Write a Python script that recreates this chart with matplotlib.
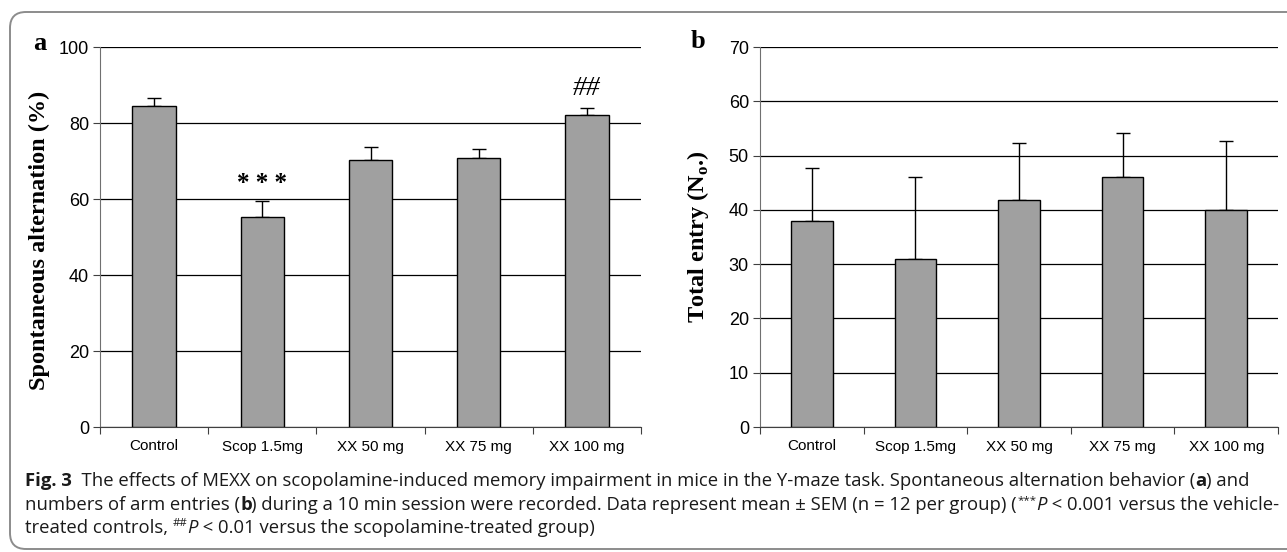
import matplotlib
matplotlib.use("Agg")
import matplotlib.pyplot as plt
from matplotlib.transforms import IdentityTransform
from matplotlib.patches import FancyBboxPatch
import numpy as np

# ---------------- data ----------------
groups = ["Control", "Scop 1.5mg", "XX 50 mg", "XX 75 mg", "XX 100 mg"]
alternation = [84.4, 55.2, 70.2, 70.7, 82.0]
alternation_sem = [2.3, 4.3, 3.4, 2.4, 1.9]
entries = [37.9, 30.9, 41.8, 46.1, 39.9]
entries_sem = [9.9, 15.2, 10.6, 8.0, 12.8]
alt_ticks = [0, 20, 40, 60, 80, 100]
ent_ticks = [0, 10, 20, 30, 40, 50, 60, 70]
sig_marks = {1: "***", 4: "##"}
sig_y = {1: 64.0, 4: 89.0}

W, H = 1287, 552
plt.rcParams['mathtext.fontset'] = 'custom'
plt.rcParams['mathtext.bf'] = 'Liberation Serif:bold'
plt.rcParams['mathtext.rm'] = 'Liberation Serif'

fig = plt.figure(figsize=(W / 100, H / 100), dpi=100)
fig.patch.set_facecolor("white")

# frame
box = FancyBboxPatch((10, H - 12 - 537), 1300, 537, boxstyle="round,pad=0,rounding_size=16",
                     transform=IdentityTransform(), facecolor="none",
                     edgecolor="#8c8c8c", linewidth=1.4, clip_on=False)
fig.patches.append(box)

def px_axes(l, t, r, b):
    return fig.add_axes([l / W, (H - b) / H, (r - l) / W, (b - t) / H])

def style_axes(ax, vals, sems, ticks):
    x = np.arange(len(groups))
    ax.set_axisbelow(True)
    ax.bar(x, vals, width=0.4, color="#a0a0a0", edgecolor="black", linewidth=1.0, zorder=3)
    ax.errorbar(x, vals, yerr=[np.zeros(len(sems)), sems], fmt="none", ecolor="black",
                elinewidth=1.0, capsize=5, capthick=1.0, zorder=2)
    ax.set_xlim(-0.5, len(groups) - 0.5)
    ax.set_ylim(ticks[0], ticks[-1])
    ax.set_yticks(ticks)
    ax.yaxis.grid(True, color="black", linewidth=0.9)
    ax.set_xticks(np.arange(len(groups) + 1) - 0.5)
    ax.set_xticklabels([])
    ax.set_xticks(x, minor=True)
    ax.set_xticklabels(groups, minor=True, fontsize=11, family="Liberation Sans")
    ax.tick_params(axis="x", which="minor", length=0, pad=9)
    ax.tick_params(axis="x", which="major", length=5, color="#404040", direction="out")
    ax.tick_params(axis="y", length=5, pad=3, color="#404040", labelsize=13)
    for lab in ax.get_yticklabels():
        lab.set_family("Liberation Sans")
    for s in ["top", "right"]:
        ax.spines[s].set_visible(False)
    ax.spines["left"].set_color("#707070")
    ax.spines["bottom"].set_color("#404040")

axa = px_axes(100, 47, 641, 427)
style_axes(axa, alternation, alternation_sem, alt_ticks)
for i, m in sig_marks.items():
    if m == "***":
        axa.text(i, sig_y[i], "* * *", ha="center", va="center", fontsize=18,
                 family="Liberation Serif", fontweight="bold")
    else:
        axa.text(i, sig_y[i], m, ha="center", va="center", fontsize=20,
                 family="Liberation Serif", style="italic")

axb = px_axes(760, 47, 1278, 427)
style_axes(axb, entries, entries_sem, ent_ticks)

# y labels and panel letters
fig.text(39 / W, (H - 240) / H, "Spontaneous alternation (%)", rotation=90, ha="center",
         va="center", fontsize=17.5, family="Liberation Serif", fontweight="bold")
fig.text(698 / W, (H - 237) / H, r"Total entry (N$_{\mathbf{o}}$.)", rotation=90, ha="center",
         va="center", fontsize=17.5, family="Liberation Serif", fontweight="bold")
fig.text(40 / W, (H - 43) / H, "a", ha="center", va="center", fontsize=19,
         family="Liberation Serif", fontweight="bold")
fig.text(698 / W, (H - 42) / H, "b", ha="center", va="center", fontsize=19,
         family="Liberation Serif", fontweight="bold")

# caption (rich text drawn segment by segment)
cap_font = "Open Sans"
cap_color = "#1a1a1a"
renderer = fig.canvas.get_renderer()

def seg_width(text, size, weight, style):
    t1 = fig.text(0, 0, "x" + text + "x", fontsize=size, family=cap_font,
                  fontweight=weight, style=style)
    t2 = fig.text(0, 0, "xx", fontsize=size, family=cap_font, fontweight=weight, style=style)
    w = t1.get_window_extent(renderer).width - t2.get_window_extent(renderer).width
    t1.remove(); t2.remove()
    return w

def draw_line(x, y_top, segments, size, measure_only=False):
    y = H - y_top
    total = 0
    for text, kind in segments:
        weight = "bold" if "b" in kind else "normal"
        style = "italic" if "i" in kind else "normal"
        s = size * 0.62 if "s" in kind else size
        dy = size * 0.55 if "s" in kind else 0
        w = seg_width(text, s, weight, style)
        if not measure_only:
            fig.text(x + total, y + dy, text, fontsize=s, family=cap_font, fontweight=weight,
                     style=style, color=cap_color, transform=IdentityTransform(),
                     ha="left", va="baseline")
        total += w
    return total

line1 = [("Fig. 3", "b"), ("  The effects of MEXX on scopolamine-induced memory impairment in mice in the Y-maze task. Spontaneous alternation behavior (", ""),
         ("a", "b"), (") and", "")]
line2 = [("numbers of arm entries (", ""), ("b", "b"),
         (") during a 10 min session were recorded. Data represent mean \u00b1 SEM (n = 12 per group) (", ""),
         ("***", "s"), ("P", "i"), (" < 0.001 versus the vehicle-", "")]
line3 = [("treated controls, ", ""), ("##", "s"), ("P", "i"), (" < 0.01 versus the scopolamine-treated group)", "")]

base = 12.0
w1 = draw_line(0, 0, line1, base, measure_only=True)
size = base * 1218.0 / w1
draw_line(25, 486, line1, size)
draw_line(25, 510, line2, size)
draw_line(25, 533, line3, size)

fig.savefig("out.png", dpi=100, facecolor="white")
